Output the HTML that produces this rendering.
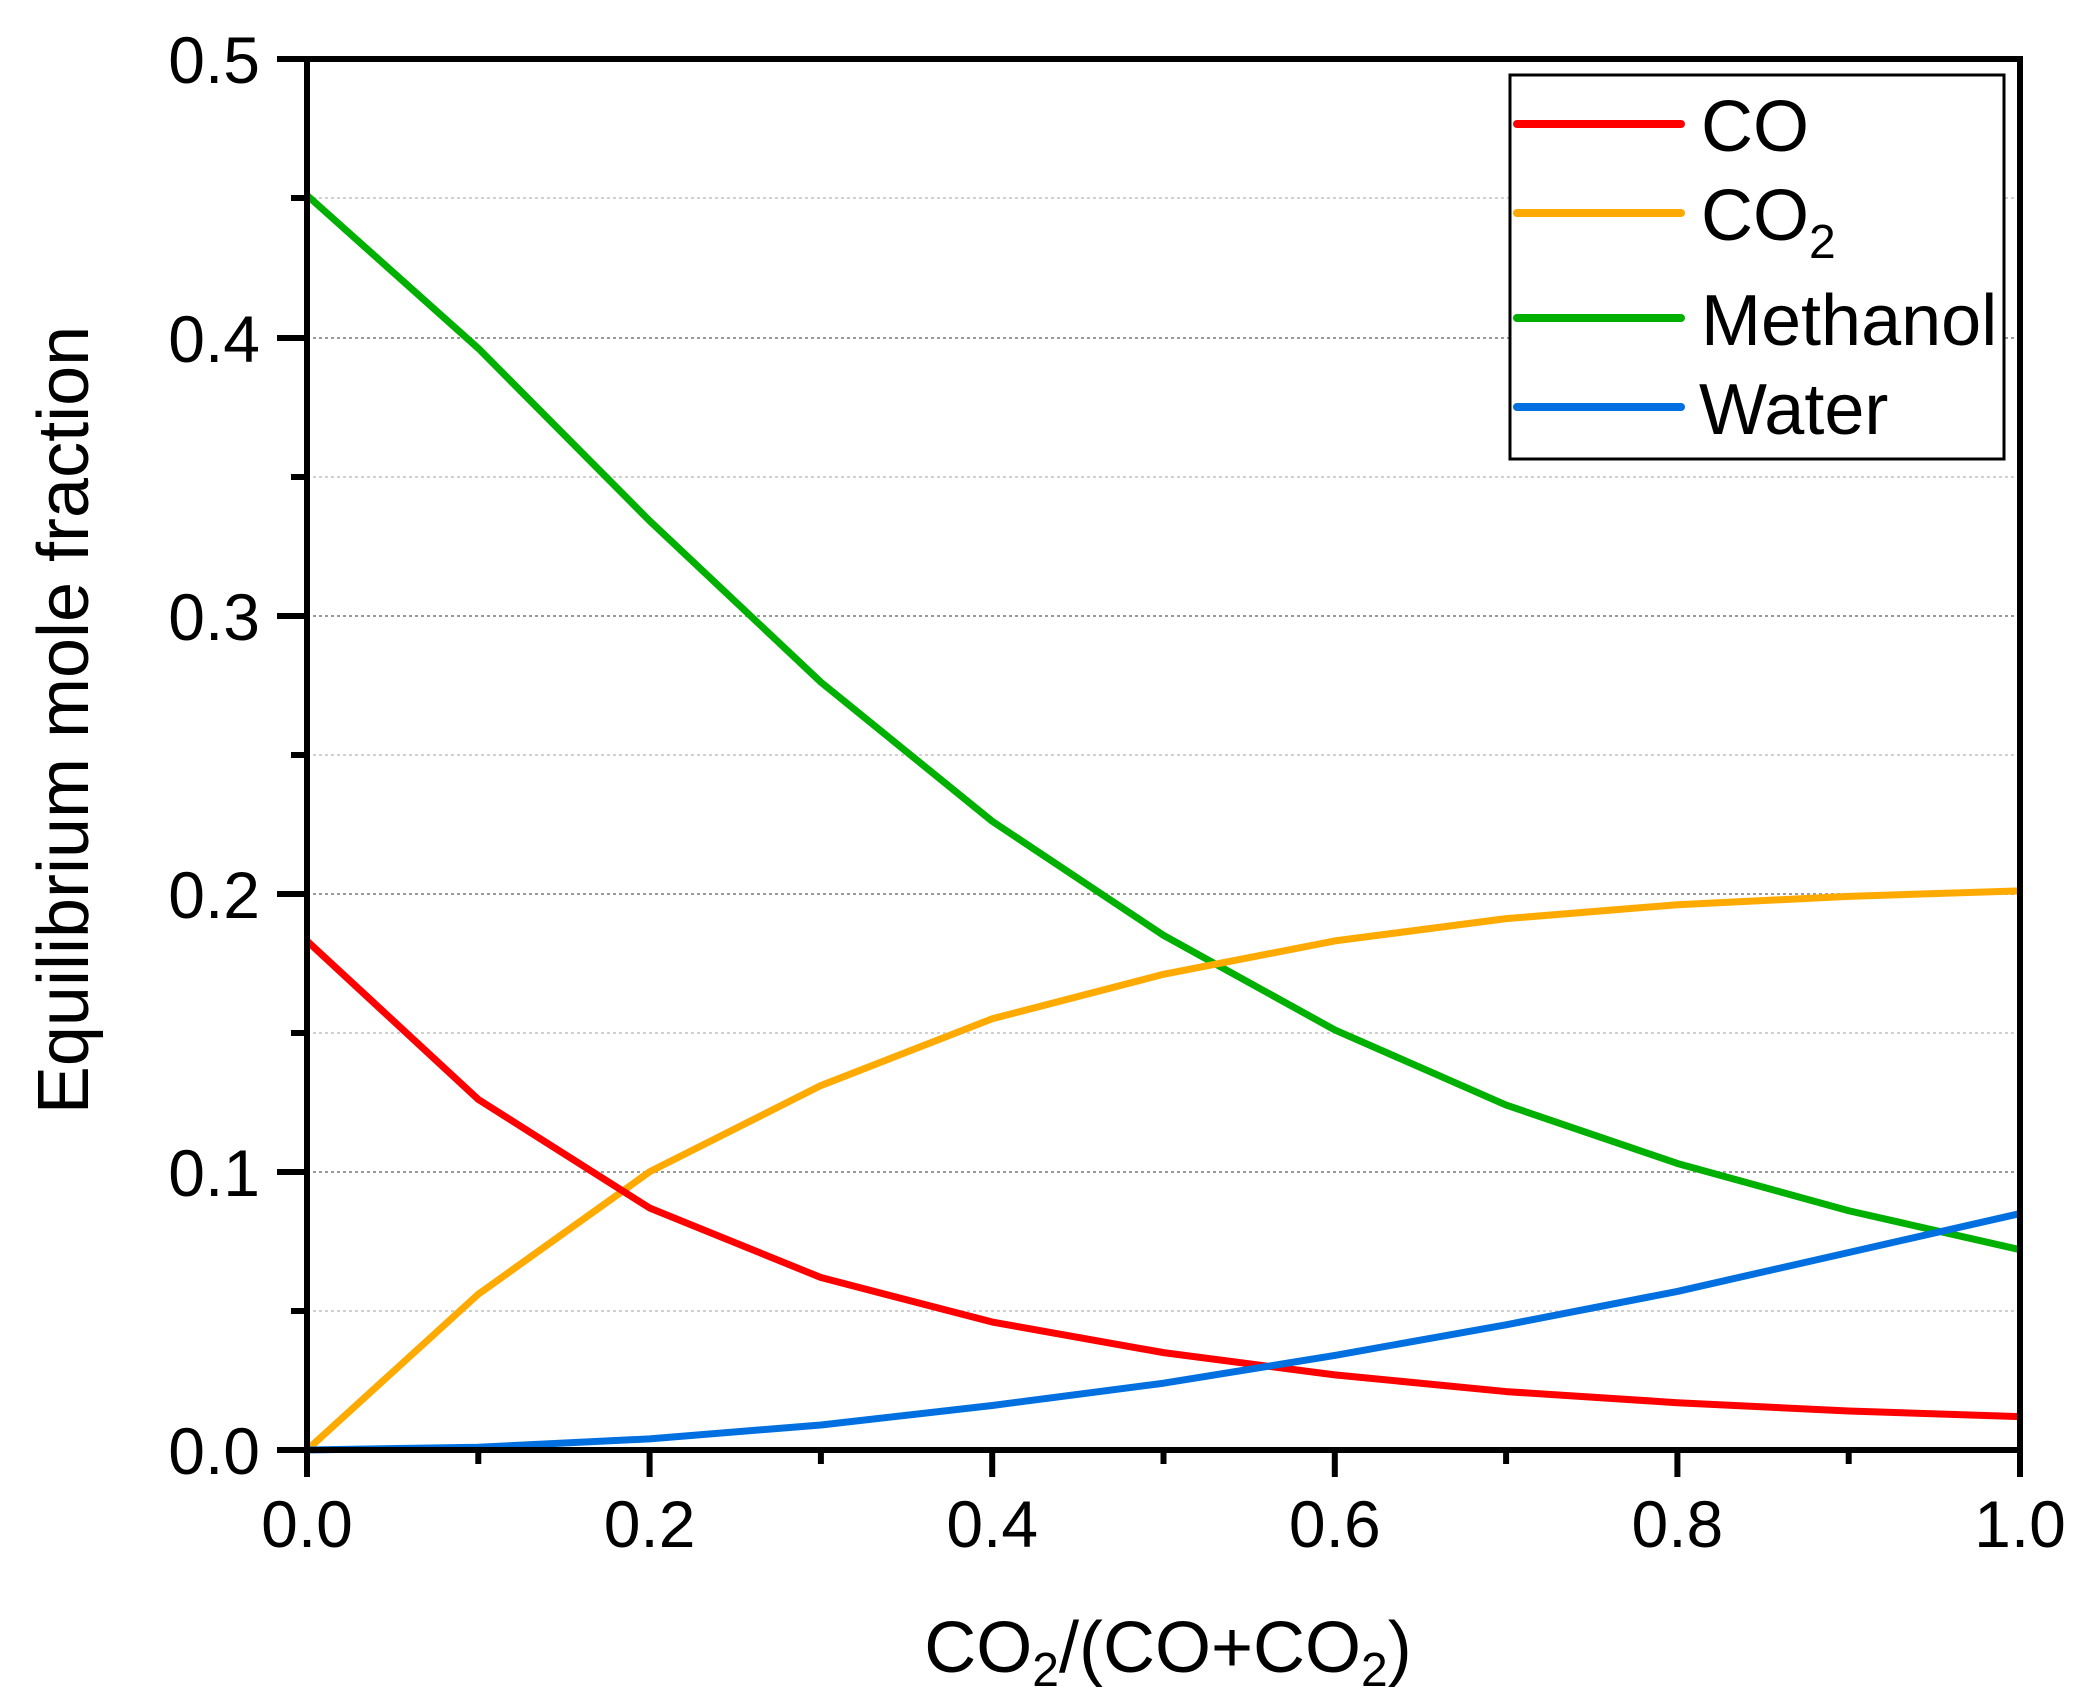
<!DOCTYPE html>
<html><head><meta charset="utf-8"><style>html,body{margin:0;padding:0;background:#fff}svg{display:block}</style></head>
<body>
<svg width="2098" height="1700" viewBox="0 0 2098 1700" xmlns="http://www.w3.org/2000/svg" font-family="Liberation Sans, Arial, sans-serif">
<rect width="2098" height="1700" fill="#fff"/>
<g stroke-width="2" stroke-dasharray="3,3">
<line x1="307" x2="2020" y1="1311" y2="1311" stroke="#d0d0d0"/>
<line x1="307" x2="2020" y1="1172" y2="1172" stroke="#9a9a9a"/>
<line x1="307" x2="2020" y1="1033" y2="1033" stroke="#d0d0d0"/>
<line x1="307" x2="2020" y1="894" y2="894" stroke="#9a9a9a"/>
<line x1="307" x2="2020" y1="755" y2="755" stroke="#d0d0d0"/>
<line x1="307" x2="2020" y1="616" y2="616" stroke="#9a9a9a"/>
<line x1="307" x2="2020" y1="477" y2="477" stroke="#d0d0d0"/>
<line x1="307" x2="2020" y1="338" y2="338" stroke="#9a9a9a"/>
<line x1="307" x2="2020" y1="198" y2="198" stroke="#d0d0d0"/>
</g>
<g transform="translate(307,1450) scale(1713,-2782)" fill="none" stroke-width="7" stroke-linejoin="round">
<polyline vector-effect="non-scaling-stroke" stroke="#00b000" points="0,0.451 0.1,0.396 0.2,0.334 0.3,0.276 0.4,0.226 0.5,0.185 0.6,0.151 0.7,0.124 0.8,0.103 0.9,0.086 1,0.072"/>
<polyline vector-effect="non-scaling-stroke" stroke="#ffaa00" points="0,0 0.1,0.056 0.2,0.100 0.3,0.131 0.4,0.155 0.5,0.171 0.6,0.183 0.7,0.191 0.8,0.196 0.9,0.199 1,0.201"/>
<polyline vector-effect="non-scaling-stroke" stroke="#ff0000" points="0,0.183 0.1,0.126 0.2,0.087 0.3,0.062 0.4,0.046 0.5,0.035 0.6,0.027 0.7,0.021 0.8,0.017 0.9,0.014 1,0.012"/>
<polyline vector-effect="non-scaling-stroke" stroke="#0070e0" points="0,0 0.1,0.001 0.2,0.004 0.3,0.009 0.4,0.016 0.5,0.024 0.6,0.034 0.7,0.045 0.8,0.057 0.9,0.071 1,0.085"/>
</g>
<rect x="307" y="59" width="1713" height="1391" fill="none" stroke="#000" stroke-width="6"/>
<g stroke="#000" stroke-width="6">
<line x1="277" x2="307" y1="1450" y2="1450"/><line x1="277" x2="307" y1="1172" y2="1172"/>
<line x1="277" x2="307" y1="894" y2="894"/><line x1="277" x2="307" y1="616" y2="616"/>
<line x1="277" x2="307" y1="338" y2="338"/><line x1="277" x2="307" y1="59" y2="59"/>
<line x1="291" x2="307" y1="1311" y2="1311"/><line x1="291" x2="307" y1="1033" y2="1033"/>
<line x1="291" x2="307" y1="755" y2="755"/><line x1="291" x2="307" y1="477" y2="477"/>
<line x1="291" x2="307" y1="198" y2="198"/>
<line x1="307" x2="307" y1="1450" y2="1477"/><line x1="649.6" x2="649.6" y1="1450" y2="1477"/>
<line x1="992.2" x2="992.2" y1="1450" y2="1477"/><line x1="1334.8" x2="1334.8" y1="1450" y2="1477"/>
<line x1="1677.4" x2="1677.4" y1="1450" y2="1477"/><line x1="2020" x2="2020" y1="1450" y2="1477"/>
<line x1="478.3" x2="478.3" y1="1450" y2="1464"/><line x1="820.9" x2="820.9" y1="1450" y2="1464"/>
<line x1="1163.5" x2="1163.5" y1="1450" y2="1464"/><line x1="1506.1" x2="1506.1" y1="1450" y2="1464"/>
<line x1="1848.7" x2="1848.7" y1="1450" y2="1464"/>
</g>
<g font-size="66" fill="#000" text-anchor="end">
<text x="260" y="1474">0.0</text><text x="260" y="1196">0.1</text><text x="260" y="918">0.2</text>
<text x="260" y="640">0.3</text><text x="260" y="362">0.4</text><text x="260" y="83">0.5</text>
</g>
<g font-size="66" fill="#000" text-anchor="middle">
<text x="307" y="1547">0.0</text><text x="649.6" y="1547">0.2</text><text x="992.2" y="1547">0.4</text>
<text x="1334.8" y="1547">0.6</text><text x="1677.4" y="1547">0.8</text><text x="2020" y="1547">1.0</text>
</g>
<text x="1168" y="1672" font-size="72" text-anchor="middle">CO<tspan font-size="48" dy="14">2</tspan><tspan dy="-14">/(CO+CO</tspan><tspan font-size="48" dy="14">2</tspan><tspan dy="-14">)</tspan></text>
<text transform="translate(88,720) rotate(-90)" font-size="72" text-anchor="middle">Equilibrium mole fraction</text>
<rect x="1510" y="75" width="494" height="384" fill="#fff" stroke="#000" stroke-width="3"/>
<g stroke-width="8" stroke-linecap="round">
<line x1="1517" x2="1681" y1="124" y2="124" stroke="#ff0000"/>
<line x1="1517" x2="1681" y1="213" y2="213" stroke="#ffaa00"/>
<line x1="1517" x2="1681" y1="318" y2="318" stroke="#00b000"/>
<line x1="1517" x2="1681" y1="407" y2="407" stroke="#0070e0"/>
</g>
<g font-size="72" fill="#000">
<text x="1701" y="151">CO</text>
<text x="1701" y="240">CO<tspan font-size="48" dy="18">2</tspan></text>
<text x="1701" y="345">Methanol</text>
<text x="1699" y="434">Water</text>
</g>
</svg>
</body></html>
